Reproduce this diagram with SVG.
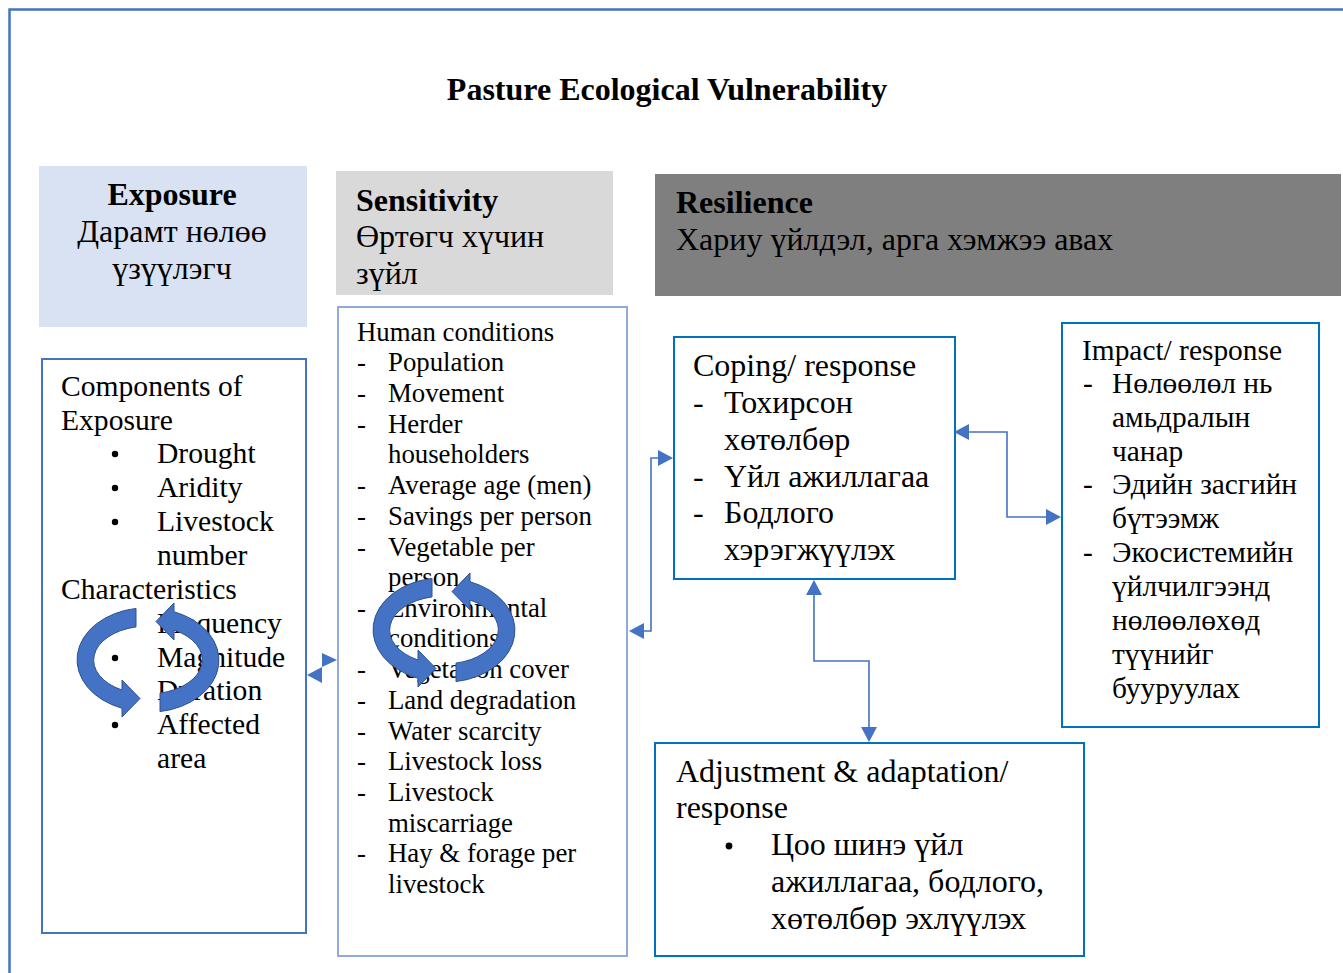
<svg xmlns="http://www.w3.org/2000/svg" width="1343" height="973" viewBox="0 0 1343 973">
  <style>
    text { font-family: "Liberation Serif", "Times New Roman", serif; fill: #000; }
    .b { font-weight: bold; }
    .hdr { font-size: 32px; }
    .exp { font-size: 29.6px; }
    .sen { font-size: 26.8px; }
    .cop { font-size: 32px; }
    .imp { font-size: 29.4px; }
    .adj { font-size: 32px; }
    .box { fill: #fff; stroke-width: 2; }
    .conn { fill: none; stroke: #4472C4; stroke-width: 1.6; }
    .head { fill: #4472C4; }
    .cyc { fill: #4472C4; stroke: #2F528F; stroke-width: 1; }
  </style>
  <defs>
    <!-- half of a cycle arrow: band around the left side, head pointing right at the bottom -->
    <path id="halfArc" d="M -12,-51.6 A 70 52 0 0 0 -26,48.3 L -26,57 L -8,38.5 L -26,20 L -26,30 A 54 34 0 0 1 -12,-33.1 Z"/>
    <g id="cycle">
      <use href="#halfArc" class="cyc"/>
      <use href="#halfArc" class="cyc" transform="rotate(180)"/>
    </g>
  </defs>

  <!-- outer frame -->
  <path d="M 9.5,973 L 9.5,9.5 L 1343,9.5" fill="none" stroke="#4472C4" stroke-width="2.5"/>

  <text x="667" y="100" class="b" font-size="32" text-anchor="middle">Pasture Ecological Vulnerability</text>

  <!-- column headers -->
  <g id="exposure-header">
    <rect x="39" y="166" width="268" height="161" fill="#D9E2F3"/>
    <text x="172" y="205" class="hdr b" text-anchor="middle">Exposure</text>
    <text x="172" y="242" class="hdr" text-anchor="middle">Дарамт нөлөө</text>
    <text x="172" y="279" class="hdr" text-anchor="middle">үзүүлэгч</text>
  </g>
  <g id="sensitivity-header">
    <rect x="336" y="171" width="277" height="124" fill="#D9D9D9"/>
    <text class="hdr">
      <tspan x="356" y="211" class="b">Sensitivity</tspan>
      <tspan x="356" y="247">Өртөгч хүчин</tspan>
      <tspan x="356" y="284">зүйл</tspan>
    </text>
  </g>
  <g id="resilience-header">
    <rect x="655" y="174" width="686" height="122" fill="#7F7F7F"/>
    <text class="hdr">
      <tspan x="676" y="213" class="b">Resilience</tspan>
      <tspan x="676" y="250">Хариу үйлдэл, арга хэмжээ авах</tspan>
    </text>
  </g>

  <!-- exposure components -->
  <g id="exposure-box">
    <rect x="42" y="359" width="264" height="574" class="box" stroke="#4472C4"/>
    <text class="exp">
      <tspan x="61" y="396">Components of</tspan>
      <tspan x="61" y="430">Exposure</tspan>
      <tspan x="157" y="463">Drought</tspan>
      <tspan x="157" y="497">Aridity</tspan>
      <tspan x="157" y="531">Livestock</tspan>
      <tspan x="157" y="565">number</tspan>
      <tspan x="61" y="599">Characteristics</tspan>
      <tspan x="157" y="633">Frequency</tspan>
      <tspan x="157" y="667">Magnitude</tspan>
      <tspan x="157" y="700">Duration</tspan>
      <tspan x="157" y="734">Affected</tspan>
      <tspan x="157" y="768">area</tspan>
    </text>
    <g fill="#000">
      <circle cx="115" cy="454" r="3.2"/>
      <circle cx="115" cy="488" r="3.2"/>
      <circle cx="115" cy="522" r="3.2"/>
      <circle cx="115" cy="624" r="3.2"/>
      <circle cx="115" cy="658" r="3.2"/>
      <circle cx="115" cy="691" r="3.2"/>
      <circle cx="115" cy="725" r="3.2"/>
    </g>
  </g>

  <!-- sensitivity factors -->
  <g id="sensitivity-box">
    <rect x="338" y="307" width="289" height="649" class="box" stroke="#8FAADC"/>
    <text class="sen">
      <tspan x="357" y="341">Human conditions</tspan>
      <tspan x="388" y="371">Population</tspan>
      <tspan x="388" y="402">Movement</tspan>
      <tspan x="388" y="433">Herder</tspan>
      <tspan x="388" y="463">householders</tspan>
      <tspan x="388" y="494">Average age (men)</tspan>
      <tspan x="388" y="525">Savings per person</tspan>
      <tspan x="388" y="556">Vegetable per</tspan>
      <tspan x="388" y="586">person</tspan>
      <tspan x="388" y="617">Environmental</tspan>
      <tspan x="388" y="647">conditions</tspan>
      <tspan x="388" y="678">Vegetation cover</tspan>
      <tspan x="388" y="709">Land degradation</tspan>
      <tspan x="388" y="740">Water scarcity</tspan>
      <tspan x="388" y="770">Livestock loss</tspan>
      <tspan x="388" y="801">Livestock</tspan>
      <tspan x="388" y="832">miscarriage</tspan>
      <tspan x="388" y="862">Hay &amp; forage per</tspan>
      <tspan x="388" y="893">livestock</tspan>
    </text>
    <text class="sen">
      <tspan x="357" y="371">-</tspan>
      <tspan x="357" y="402">-</tspan>
      <tspan x="357" y="433">-</tspan>
      <tspan x="357" y="494">-</tspan>
      <tspan x="357" y="525">-</tspan>
      <tspan x="357" y="556">-</tspan>
      <tspan x="357" y="617">-</tspan>
      <tspan x="357" y="678">-</tspan>
      <tspan x="357" y="709">-</tspan>
      <tspan x="357" y="740">-</tspan>
      <tspan x="357" y="770">-</tspan>
      <tspan x="357" y="801">-</tspan>
      <tspan x="357" y="862">-</tspan>
    </text>
  </g>

  <!-- resilience responses -->
  <g id="coping-box">
    <rect x="674" y="337" width="281" height="242" class="box" stroke="#0070C0"/>
    <text class="cop">
      <tspan x="693" y="376">Coping/ response</tspan>
      <tspan x="693" y="413">-</tspan>
      <tspan x="724" y="413">Тохирсон</tspan>
      <tspan x="724" y="450">хөтөлбөр</tspan>
      <tspan x="693" y="487">-</tspan>
      <tspan x="724" y="487">Үйл ажиллагаа</tspan>
      <tspan x="693" y="523">-</tspan>
      <tspan x="724" y="523">Бодлого</tspan>
      <tspan x="724" y="560">хэрэгжүүлэх</tspan>
    </text>
  </g>

  <g id="impact-box">
    <rect x="1062" y="323" width="257" height="404" class="box" stroke="#0070C0"/>
    <text class="imp">
      <tspan x="1082" y="360">Impact/ response</tspan>
      <tspan x="1083" y="393">-</tspan>
      <tspan x="1112" y="393">Нөлөөлөл нь</tspan>
      <tspan x="1112" y="427">амьдралын</tspan>
      <tspan x="1112" y="461">чанар</tspan>
      <tspan x="1083" y="494">-</tspan>
      <tspan x="1112" y="494">Эдийн засгийн</tspan>
      <tspan x="1112" y="528">бүтээмж</tspan>
      <tspan x="1083" y="562">-</tspan>
      <tspan x="1112" y="562">Экосистемийн</tspan>
      <tspan x="1112" y="596">үйлчилгээнд</tspan>
      <tspan x="1112" y="630">нөлөөлөхөд</tspan>
      <tspan x="1112" y="664">түүнийг</tspan>
      <tspan x="1112" y="698">бууруулах</tspan>
    </text>
  </g>

  <g id="adjustment-box">
    <rect x="655" y="743" width="429" height="213" class="box" stroke="#0070C0"/>
    <text class="adj">
      <tspan x="676" y="782">Adjustment &amp; adaptation/</tspan>
      <tspan x="676" y="818">response</tspan>
      <tspan x="771" y="855">Цоо шинэ үйл</tspan>
      <tspan x="771" y="892">ажиллагаа, бодлого,</tspan>
      <tspan x="771" y="929">хөтөлбөр эхлүүлэх</tspan>
    </text>
    <circle cx="729" cy="846" r="3.4" fill="#000"/>
  </g>

  <!-- connectors -->
  <g id="connectors">
    <!-- exposure <-> sensitivity -->
    <polygon class="head" points="337,660 322,653 322,667"/>
    <polygon class="head" points="307,675 322,667 322,683"/>
    <!-- sensitivity <-> coping -->
    <polyline class="conn" points="643,631 651,631 651,458 659,458"/>
    <polygon class="head" points="673,458 658,450 658,466"/>
    <polygon class="head" points="629,631 644,623 644,639"/>
    <!-- coping <-> impact -->
    <polyline class="conn" points="967,432 1007,432 1007,517 1047,517"/>
    <polygon class="head" points="954,432 969,424 969,440"/>
    <polygon class="head" points="1061,517 1046,509 1046,525"/>
    <!-- coping <-> adjustment -->
    <polyline class="conn" points="814,593 814,661 869,661 869,729"/>
    <polygon class="head" points="814,580 806,595 822,595"/>
    <polygon class="head" points="869,742 861,727 877,727"/>
  </g>

  <!-- cycle arrows -->
  <g id="exposure-cycle" transform="translate(148,660)">
    <use href="#cycle"/>
  </g>
  <g id="sensitivity-cycle" transform="translate(444,630)">
    <use href="#cycle"/>
  </g>
</svg>
